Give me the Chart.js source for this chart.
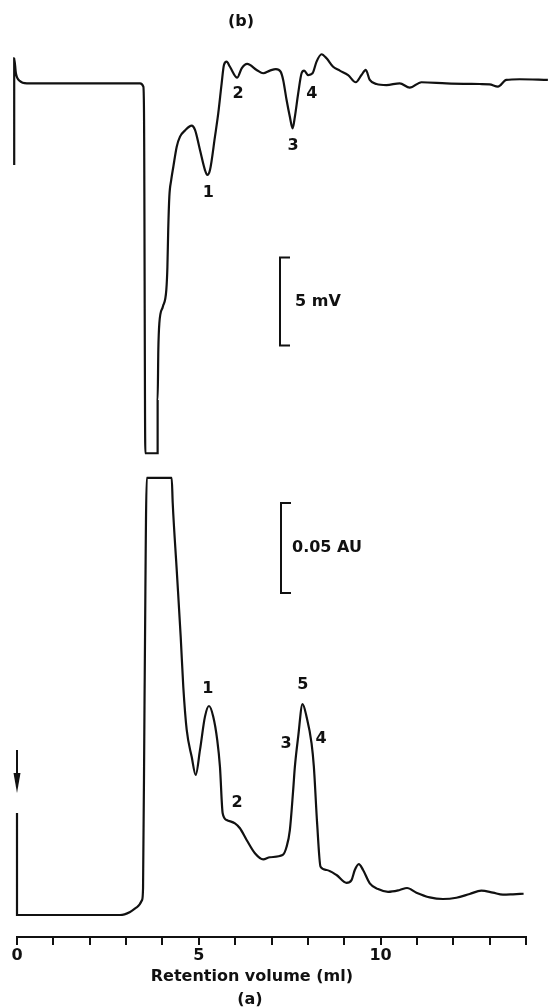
<!DOCTYPE html>
<html>
<head>
<meta charset="utf-8">
<script src="https://cdn.jsdelivr.net/npm/chart.js@4/dist/chart.umd.min.js"></script>
<style>
  html, body { margin: 0; padding: 0; background: #fff; }
  #wrap { width: 549px; height: 1008px; position: relative; }
</style>
</head>
<body>
<div id="wrap"><canvas id="chrom"></canvas></div>
<script>
// Trace (b): detector signal in mV against retention volume in ml
const volumeB = [-0.077, -0.077, -0.030, 0.069, 0.272, 3.385, 3.475, 3.495, 3.530, 3.868,
  3.868, 3.887, 3.915, 4.011, 4.107, 4.137, 4.159, 4.190, 4.242, 4.300,
  4.393, 4.484, 4.621, 4.805, 4.896, 5.033, 5.170, 5.234, 5.308, 5.445,
  5.536, 5.629, 5.692, 5.766, 5.857, 6.058, 6.179, 6.332, 6.591, 6.772,
  6.956, 7.121, 7.250, 7.321, 7.415, 7.505, 7.580, 7.643, 7.734, 7.827,
  7.898, 8.008, 8.129, 8.239, 8.376, 8.514, 8.695, 8.879, 9.107, 9.319,
  9.475, 9.593, 9.703, 9.887, 10.162, 10.527, 10.802, 11.124, 11.810, 12.725,
  12.999, 13.228, 13.459, 13.824, 14.602];
const signalB = [-4.64, 1.42, 0.57, 0.15, 0, 0, -0.19, -2.09, -21.02, -21.02,
  -17.99, -15.15, -13.64, -12.69, -11.74, -10.42, -8.34, -6.44, -5.49, -4.74,
  -3.60, -3.03, -2.68, -2.41, -2.65, -3.79, -4.93, -5.21, -4.93, -3.03,
  -1.70, 0, 1.04, 1.23, 0.94, 0.32, 0.85, 1.10, 0.76, 0.57,
  0.72, 0.81, 0.66, 0.19, -0.95, -1.90, -2.56, -1.90, -0.57, 0.57,
  0.72, 0.47, 0.57, 1.23, 1.65, 1.42, 0.94, 0.72, 0.47, 0.06,
  0.47, 0.76, 0.19, -0.04, -0.10, 0, -0.25, 0.06, 0, -0.04,
  -0.06, -0.19, 0.19, 0.23, 0.19];

// Trace (a): UV absorbance in AU against retention volume in ml
const volumeA = [0, 0, 2.835, 3.110, 3.302, 3.440, 3.467, 3.508, 3.569, 4.255,
  4.283, 4.393, 4.503, 4.574, 4.668, 4.805, 4.915, 5.033, 5.170, 5.280,
  5.398, 5.508, 5.582, 5.657, 5.766, 5.995, 6.132, 6.316, 6.544, 6.772,
  6.956, 7.305, 7.415, 7.505, 7.596, 7.643, 7.734, 7.854, 7.964, 8.102,
  8.165, 8.255, 8.349, 8.514, 8.788, 9.063, 9.201, 9.291, 9.401, 9.519,
  9.703, 9.931, 10.206, 10.527, 10.728, 10.986, 11.352, 11.717, 12.085, 12.451,
  12.772, 13.091, 13.365, 13.640, 13.934];
const absorbanceA = [0.0567, 0, 0, 0.0017, 0.0044, 0.0083, 0.0150, 0.1194, 0.2428, 0.2428,
  0.2289, 0.1917, 0.1544, 0.1267, 0.1028, 0.0879, 0.0778, 0.0917, 0.1102, 0.1161,
  0.1102, 0.0972, 0.0824, 0.0565, 0.0528, 0.0509, 0.0482, 0.0417, 0.0343, 0.0309,
  0.0321, 0.0333, 0.0379, 0.0472, 0.0694, 0.0824, 0.0991, 0.1172, 0.1102, 0.0954,
  0.0824, 0.0509, 0.0268, 0.0250, 0.0222, 0.0179, 0.0194, 0.0250, 0.0283, 0.0250,
  0.0176, 0.0144, 0.0129, 0.0139, 0.0150, 0.0124, 0.0098, 0.0089, 0.0096, 0.0117,
  0.0135, 0.0124, 0.0113, 0.0115, 0.0118];

// Axis ticks: a mark every ml, numbers only on these
const axisRange = [0, 14];
const labeledTicks = [0, 5, 10];
const axisTitle = 'Retention volume (ml)';

// Peak numbering for each trace
const peakNamesB = ['1', '2', '3', '4'];
const peakNamesA = ['1', '2', '3', '4', '5'];

// Calibration bars
const barMV = 5;
const barAU = 0.05;

// ---- placement of the drawn annotations (in axis units) ----
const placeB = [[5.26, -6.23], [6.08, -0.61], [7.59, -3.56], [8.11, -0.61]];
const placeA = [[5.25, 0.1256], [6.05, 0.0622], [7.40, 0.0950], [8.36, 0.0978], [7.86, 0.1278]];
const tagB = { text: '(b)', x: 6.16, y: 3.48 };
const barPlaceB = { x: 7.23, from: -14.9 };
const barPlaceA = { x: 7.26, from: 0.1789 };
const inject = { x: 0, from: 0.0917, to: 0.0678 };

const ink = '#111';
const font = 'bold 16px "DejaVu Sans", sans-serif';

const toPoints = (xs, ys) => xs.map((v, i) => ({ x: v, y: ys[i] }));

const decorations = {
  id: 'decorations',
  afterDatasetsDraw(chart) {
    const { ctx } = chart;
    const { x, yA, yB } = chart.scales;
    ctx.save();
    ctx.fillStyle = ink;
    ctx.strokeStyle = ink;
    ctx.lineWidth = 2;
    ctx.font = font;
    ctx.textAlign = 'center';
    ctx.textBaseline = 'middle';

    ctx.fillText(tagB.text, x.getPixelForValue(tagB.x), yB.getPixelForValue(tagB.y));
    peakNamesB.forEach((t, i) => ctx.fillText(t, x.getPixelForValue(placeB[i][0]), yB.getPixelForValue(placeB[i][1])));
    peakNamesA.forEach((t, i) => ctx.fillText(t, x.getPixelForValue(placeA[i][0]), yA.getPixelForValue(placeA[i][1])));

    const bracket = (scale, place, span, label, gap) => {
      const px = Math.round(x.getPixelForValue(place.x));
      const p0 = scale.getPixelForValue(place.from);
      const p1 = scale.getPixelForValue(place.from + span);
      ctx.beginPath();
      ctx.moveTo(px + 10, p1);
      ctx.lineTo(px, p1);
      ctx.lineTo(px, p0);
      ctx.lineTo(px + 10, p0);
      ctx.stroke();
      ctx.textAlign = 'left';
      ctx.fillText(label, px + gap, (p0 + p1) / 2);
      ctx.textAlign = 'center';
    };
    bracket(yB, barPlaceB, barMV, barMV + ' mV', 15);
    bracket(yA, barPlaceA, barAU, barAU.toFixed(2) + ' AU', 11);

    // injection marker
    const ax = x.getPixelForValue(inject.x);
    const top = yA.getPixelForValue(inject.from);
    const tip = yA.getPixelForValue(inject.to);
    ctx.beginPath();
    ctx.moveTo(ax, top);
    ctx.lineTo(ax, tip - 14);
    ctx.stroke();
    ctx.beginPath();
    ctx.moveTo(ax - 3.5, tip - 20);
    ctx.lineTo(ax + 3.5, tip - 20);
    ctx.lineTo(ax, tip);
    ctx.closePath();
    ctx.fill();

    // axis title and panel tag below the axis
    const cx = x.getPixelForValue(6.46);
    ctx.fillText(axisTitle, cx, 977);
    ctx.fillText('(a)', cx - 2, 1000);
    ctx.restore();
  }
};

const traceStyle = {
  borderColor: ink,
  borderWidth: 2.2,
  pointRadius: 0,
  cubicInterpolationMode: 'monotone',
  clip: false,
  fill: false
};

new Chart(document.getElementById('chrom'), {
  type: 'line',
  data: {
    datasets: [
      Object.assign({ label: 'b', data: toPoints(volumeB, signalB), yAxisID: 'yB' }, traceStyle),
      Object.assign({ label: 'a', data: toPoints(volumeA, absorbanceA), yAxisID: 'yA' }, traceStyle)
    ]
  },
  options: {
    responsive: true,
    maintainAspectRatio: false,
    animation: false,
    layout: { padding: { left: 17, right: 23, top: 0, bottom: 0 } },
    plugins: { legend: { display: false }, tooltip: { enabled: false } },
    scales: {
      x: {
        type: 'linear',
        position: 'bottom',
        // range fixed after the data limits so the pen trace is drawn in full
        afterDataLimits: (s) => { s.min = axisRange[0]; s.max = axisRange[1]; },
        afterFit: (s) => { s.height = 71; },
        afterBuildTicks: (s) => {
          s.ticks = Array.from({ length: axisRange[1] - axisRange[0] + 1 }, (_, i) => ({ value: axisRange[0] + i }));
        },
        ticks: {
          autoSkip: false,
          maxRotation: 0,
          padding: 1,
          color: ink,
          font: { family: '"DejaVu Sans", sans-serif', size: 16, weight: 'bold' },
          callback: (v) => labeledTicks.includes(v) ? String(v) : ''
        },
        grid: {
          display: true,
          drawOnChartArea: false,
          drawTicks: true,
          tickLength: 8,
          lineWidth: 2,
          color: ink
        },
        border: { display: true, width: 2, color: ink }
      },
      yB: { type: 'linear', display: false, min: -48.506, max: 4.733 },
      yA: { type: 'linear', display: false, min: -0.01222, max: 0.50833 }
    }
  },
  plugins: [decorations]
});
</script>
</body>
</html>
